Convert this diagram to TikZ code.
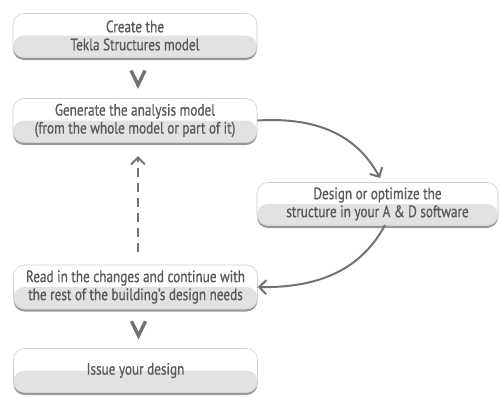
\documentclass[tikz,border=0pt]{standalone}
\usepackage{fontspec}
\setmainfont[FakeStretch=0.8,FakeBold=0.8]{PT Sans}
\usetikzlibrary{arrows.meta,shadows,calc}
\definecolor{txt}{HTML}{5A5A5A}
\definecolor{ln}{HTML}{727272}
\definecolor{lowhalf}{HTML}{E2E2E2}
\definecolor{bord}{HTML}{D0D0D0}
\tikzset{
  stepbox/.style={draw=bord, line width=0.6pt, fill=white, rounded corners=11pt,
    minimum width=244pt, minimum height=44pt, align=center, text=txt,
    font=\fontsize{16.5}{18}\selectfont, inner sep=1pt,
    drop shadow={shadow xshift=0pt, shadow yshift=-2.5pt, opacity=0.4, fill=black},
    path picture={\fill[lowhalf] (path picture bounding box.west) rectangle (path picture bounding box.south east);}},
  flow/.style={draw=ln, line width=2pt, -{Straight Barb[length=7pt,width=14pt,line width=2pt]}},
  chev/.style={draw=ln, line width=3.4pt}
}
\begin{document}
\begin{tikzpicture}[x=1pt,y=-1pt]
\useasboundingbox (0,0) rectangle (500,397);
\node[stepbox] (b1) at (135,35.5) {Create the\\Tekla Structures model};
\node[stepbox] (b2) at (135,120.5) {Generate the analysis model\\(from the whole model or part of it)};
\node[stepbox, minimum width=241pt, minimum height=43pt] (b3) at (377.5,204) {Design or optimize the\\structure in your A \& D software};
\node[stepbox] (b4) at (135.5,287) {Read in the changes and continue with\\the rest of the building's design needs};
\node[stepbox] (b5) at (135.5,370.5) {Issue your design};
% chevrons
\coordinate (c1) at ($(b1.south)!0.5!(b2.north)+(3,0)$);
\coordinate (c2) at ($(b4.south)!0.5!(b5.north)+(3,0)$);
\draw[chev] ($(c1)+(-7,-7.5)$) -- ($(c1)+(0,7)$) -- ($(c1)+(7,-7.5)$);
\draw[chev] ($(c2)+(-7,-7.5)$) -- ($(c2)+(0,7)$) -- ($(c2)+(7,-7.5)$);
% curved connectors
\coordinate (e1) at (380,178);
\draw[flow] (b2.east) .. controls (330,116) and (362,145) .. (e1);
\coordinate (s2) at (385,225);
\draw[flow] (s2) .. controls (360,272) and (315,288) .. (b4.east);
% dashed return
\coordinate (d0) at (138,252);
\coordinate (d1) at (138,156);
\draw[flow, dash pattern=on 9pt off 6pt] (d0) -- (d1);
\end{tikzpicture}
\end{document}
